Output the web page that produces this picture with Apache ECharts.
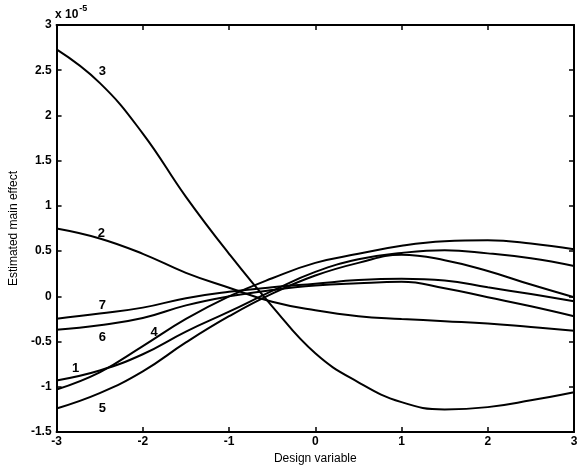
<!DOCTYPE html>
<html>
<head>
<meta charset="utf-8">
<script src="https://cdn.jsdelivr.net/npm/echarts@6/dist/echarts.min.js"></script>
<style>
  html, body { margin: 0; padding: 0; background: #fff; }
  #chart { width: 581px; height: 472px; }
</style>
</head>
<body>
<div id="chart"></div>
<script>
// Design variable grid
const xs = [-3, -2.5, -2, -1.5, -1, -0.5, 0, 0.5, 1, 1.5, 2, 2.5, 3];
// Estimated main effects (units of 1e-5)
const v1 = [-0.93, -0.82, -0.64, -0.39, -0.17, 0.06, 0.27, 0.41, 0.48, 0.51, 0.475, 0.42, 0.335];
const v2 = [0.75, 0.64, 0.47, 0.26, 0.095, -0.06, -0.155, -0.22, -0.25, -0.275, -0.30, -0.34, -0.38];
const v3 = [2.73, 2.36, 1.80, 1.10, 0.47, -0.11, -0.63, -0.95, -1.17, -1.25, -1.225, -1.15, -1.06];
const v4 = [-1.03, -0.84, -0.55, -0.25, 0.0, 0.2, 0.37, 0.47, 0.56, 0.61, 0.62, 0.585, 0.52];
const v5 = [-1.24, -1.07, -0.83, -0.51, -0.22, 0.03, 0.23, 0.37, 0.46, 0.40, 0.28, 0.13, -0.01];
const v6 = [-0.37, -0.32, -0.24, -0.10, 0.0, 0.07, 0.12, 0.145, 0.16, 0.09, -0.01, -0.11, -0.22];
const v7 = [-0.247, -0.19, -0.125, -0.02, 0.05, 0.10, 0.14, 0.18, 0.195, 0.175, 0.10, 0.025, -0.055];
const seriesNames = ['1', '2', '3', '4', '5', '6', '7'];
const seriesValues = [v1, v2, v3, v4, v5, v6, v7];
// Curve labels (data coordinates)
const labelText = ['3', '2', '7', '6', '4', '1', '5'];
const labelX = [-2.47, -2.48, -2.47, -2.47, -1.87, -2.78, -2.47];
const labelY = [2.49, 0.70, -0.10, -0.45, -0.395, -0.80, -1.24];
const xTitle = 'Design variable';
const yTitle = 'Estimated main effect';

const font = 'Liberation Sans, Arial, sans-serif';
const chart = echarts.init(document.getElementById('chart'), null, { renderer: 'canvas' });

const lineSeries = seriesValues.map((vals, i) => ({
  name: seriesNames[i],
  type: 'line',
  xAxisIndex: 0,
  yAxisIndex: 0,
  data: xs.map((x, j) => [x, vals[j]]),
  smooth: 0.45,
  symbol: 'none',
  lineStyle: { color: '#000', width: 2 },
  silent: true,
  animation: false
}));

const labelSeries = {
  type: 'scatter',
  xAxisIndex: 0,
  yAxisIndex: 0,
  symbolSize: 0,
  itemStyle: { color: '#000', opacity: 1 },
  data: labelX.map((x, i) => ({ value: [x, labelY[i]], name: labelText[i] })),
  label: {
    show: true,
    position: 'inside',
    formatter: p => p.name,
    color: '#000',
    opacity: 1,
    fontFamily: font,
    fontSize: 13,
    fontWeight: 'bold'
  },
  silent: true,
  animation: false
};

const tickLabel = { color: '#000', fontFamily: font, fontSize: 12, fontWeight: 'bold' };
const axLine = { show: true, onZero: false, lineStyle: { color: '#000', width: 2 } };
const axTick = { show: true, inside: true, length: 5, lineStyle: { color: '#000', width: 1.5 } };

chart.setOption({
  backgroundColor: '#fff',
  animation: false,
  grid: { left: 56, right: 7, top: 25, bottom: 40, containLabel: false },
  xAxis: [
    {
      type: 'value', min: -3, max: 3, interval: 1, position: 'bottom',
      axisLine: axLine, axisTick: axTick, splitLine: { show: false },
      axisLabel: Object.assign({ margin: 4 }, tickLabel),
      name: xTitle, nameLocation: 'middle', nameGap: 17,
      nameTextStyle: { color: '#000', fontFamily: font, fontSize: 12 }
    },
    {
      type: 'value', min: -3, max: 3, interval: 1, position: 'top',
      axisLine: axLine, axisTick: axTick, splitLine: { show: false },
      axisLabel: { show: false }
    }
  ],
  yAxis: [
    {
      type: 'value', min: -1.5, max: 3, interval: 0.5, position: 'left',
      axisLine: axLine, axisTick: axTick, splitLine: { show: false },
      axisLabel: Object.assign({ margin: 5 }, tickLabel),
      name: yTitle, nameLocation: 'middle', nameGap: 36,
      nameTextStyle: { color: '#000', fontFamily: font, fontSize: 12 }
    },
    {
      type: 'value', min: -1.5, max: 3, interval: 0.5, position: 'right',
      axisLine: axLine, axisTick: axTick, splitLine: { show: false },
      axisLabel: { show: false }
    }
  ],
  graphic: [
    {
      type: 'text', left: 55, top: 4,
      style: {
        text: '{a|x 10}{b|-5}',
        rich: {
          a: { fontFamily: font, fontSize: 12, fontWeight: 'bold', fill: '#000', padding: [8, 0, 0, 0] },
          b: { fontFamily: font, fontSize: 9, fontWeight: 'bold', fill: '#000', padding: [0, 0, 4, 1] }
        }
      }
    }
  ],
  series: lineSeries.concat([labelSeries])
});
</script>
</body>
</html>
